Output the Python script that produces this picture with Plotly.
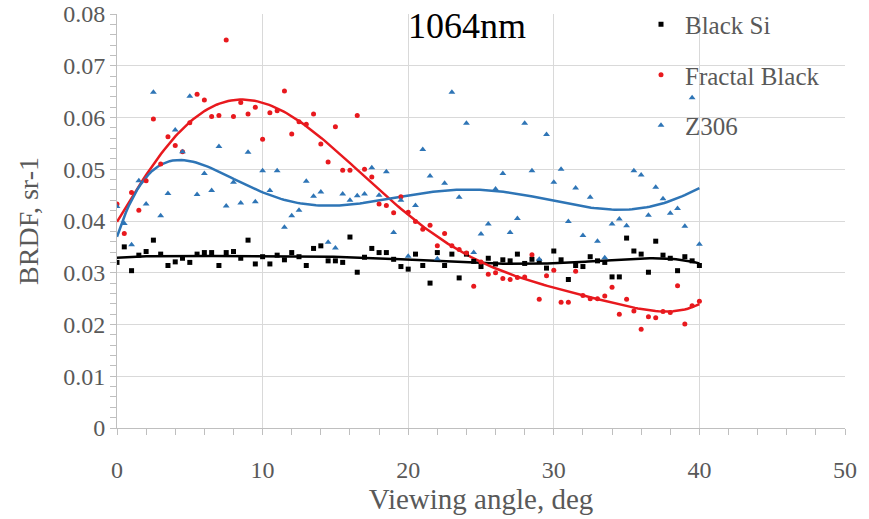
import numpy as np
import plotly.graph_objects as go

# ---------------- data ----------------
black_x = [i * 0.5 for i in range(81)]
black_y = [0.0320, 0.0350, 0.0304, 0.0334, 0.0341, 0.0363, 0.0336, 0.0314, 0.0321, 0.0328,
           0.0320, 0.0336, 0.0339, 0.0339, 0.0314, 0.0339, 0.0341, 0.0328, 0.0363, 0.0317,
           0.0331, 0.0317, 0.0334, 0.0325, 0.0339, 0.0331, 0.0314, 0.0347, 0.0352, 0.0323,
           0.0323, 0.0320, 0.0369, 0.0301, 0.0330, 0.0347, 0.0339, 0.0339, 0.0326, 0.0312,
           0.0307, 0.0336, 0.0314, 0.0280, 0.0339, 0.0314, 0.0336, 0.0290, 0.0336, 0.0322,
           0.0312, 0.0328, 0.0317, 0.0325, 0.0323, 0.0336, 0.0318, 0.0326, 0.0322, 0.0309,
           0.0342, 0.0325, 0.0287, 0.0314, 0.0312, 0.0331, 0.0323, 0.0320, 0.0292, 0.0292,
           0.0367, 0.0342, 0.0336, 0.0301, 0.0361, 0.0334, 0.0328, 0.0304, 0.0331, 0.0323,
           0.0314]

red_x = [i * 0.5 for i in range(81)]
red_y = [0.0433, 0.0376, 0.0455, 0.0421, 0.0478, 0.0597, 0.0510, 0.0563, 0.0546, 0.0534,
         0.0590, 0.0645, 0.0634, 0.0602, 0.0604, 0.0750, 0.0602, 0.0629, 0.0607, 0.0620,
         0.0558, 0.0609, 0.0613, 0.0651, 0.0568, 0.0592, 0.0587, 0.0607, 0.0549, 0.0514,
         0.0582, 0.0498, 0.0498, 0.0604, 0.0500, 0.0485, 0.0433, 0.0430, 0.0416, 0.0447,
         0.0417, 0.0399, 0.0384, 0.0392, 0.0352, 0.0376, 0.0352, 0.0345, 0.0338, 0.0274,
         0.0321, 0.0297, 0.0300, 0.0289, 0.0287, 0.0291, 0.0292, 0.0335, 0.0249, 0.0294,
         0.0305, 0.0243, 0.0243, 0.0303, 0.0256, 0.0250, 0.0250, 0.0255, 0.0272, 0.0220,
         0.0249, 0.0226, 0.0191, 0.0215, 0.0213, 0.0225, 0.0223, 0.0275, 0.0201, 0.0236,
         0.0245]

blue_x = [i * 0.5 for i in range(81)]
blue_y = [0.0428, 0.0395, 0.0354, 0.0478, 0.0433, 0.0649, 0.0410, 0.0453, 0.0576,
          0.0534, 0.0641, 0.0451, 0.0492, 0.0459, 0.0544, 0.0429, 0.0475, 0.0435, 0.0533,
          0.0437, 0.0497, 0.0459, 0.0497, 0.0388, 0.0410, 0.0421, 0.0477, 0.0448, 0.0456,
          0.0359, 0.0348, 0.0452, 0.0440, 0.0449, 0.0452, 0.0503, 0.0450, 0.0495, 0.0378,
          0.0440, 0.0332, 0.0430, 0.0538, 0.0487, 0.0327, 0.0473, 0.0649, 0.0446, 0.0589,
          0.0339, 0.0375, 0.0394, 0.0462, 0.0492, 0.0378, 0.0405, 0.0589, 0.0497, 0.0326,
          0.0567, 0.0475, 0.0500, 0.0399, 0.0464, 0.0372, 0.0446, 0.0361, 0.0329, 0.0394,
          0.0404, 0.0391, 0.0497, 0.0489, 0.0411, 0.0465, 0.0443, 0.0415, 0.0424, 0.0390,
          0.0638, 0.0355]

series_names = ["Black Si", "Fractal Black", "Z306"]
x_ticks = [0, 10, 20, 30, 40, 50]
y_ticks = [0, 0.01, 0.02, 0.03, 0.04, 0.05, 0.06, 0.07, 0.08]
y_tick_text = ["0", "0.01", "0.02", "0.03", "0.04", "0.05", "0.06", "0.07", "0.08"]

# ---------------- styling ----------------
C_BLACK = "#000000"
C_RED = "#e8191e"
C_BLUE = "#2e75b6"
GRAY_TXT = "#595959"
GRID = "#d9d9d9"
AXIS = "#bfbfbf"
FONT = "Liberation Serif, Times New Roman, serif"


def trend(x, y, deg):
    c = np.polyfit(np.array(x), np.array(y), deg)
    xs = np.linspace(min(x), max(x), 200)
    return xs, np.polyval(c, xs)


fig = go.Figure()

specs = [
    (black_x, black_y, series_names[0], C_BLACK, "square", 5, 6),
    (red_x, red_y, series_names[1], C_RED, "circle", 5, 6),
    (blue_x, blue_y, series_names[2], C_BLUE, "triangle-up", 6, 6),
]

for xs, ys, name, col, sym, ms, deg in specs:
    tx, ty = trend(xs, ys, deg)
    fig.add_trace(go.Scatter(x=tx, y=ty, mode="lines", line=dict(color=col, width=2.5),
                             showlegend=False, hoverinfo="skip"))

for xs, ys, name, col, sym, ms, deg in specs:
    fig.add_trace(go.Scatter(x=xs, y=ys, mode="markers", name=name, legendgroup=name,
                             marker=dict(color=col, symbol=sym, size=ms)))

fig.add_annotation(text="1064nm", x=(467 - 117) / 728, y=1 - (26 - 14) / 414,
                   xref="paper", yref="paper", xanchor="center", yanchor="middle",
                   showarrow=False, font=dict(family=FONT, size=36, color="#000000"))

fig.update_layout(
    width=869, height=519,
    margin=dict(l=117, r=24, t=14, b=91, autoexpand=False),
    paper_bgcolor="white", plot_bgcolor="white",
    font=dict(family=FONT, color=GRAY_TXT, size=24),
    legend=dict(x=(637 - 117) / 728, y=1.03, xanchor="left", yanchor="top",
                font=dict(family=FONT, size=25, color=GRAY_TXT),
                tracegroupgap=15, bgcolor="rgba(0,0,0,0)", itemwidth=38),
    xaxis=dict(range=[0, 50], tickvals=x_ticks, showgrid=True, gridcolor=GRID, gridwidth=1,
               showline=True, linecolor=AXIS, linewidth=1, zeroline=False,
               ticks="outside", ticklen=6, tickcolor=AXIS, ticklabelstandoff=14,
               minor=dict(dtick=2, ticks="outside", ticklen=6, tickcolor=AXIS, showgrid=False),
               tickfont=dict(family=FONT, size=24, color=GRAY_TXT),
               title=dict(text="Viewing angle, deg", font=dict(family=FONT, size=29, color=GRAY_TXT),
                          standoff=3)),
    yaxis=dict(range=[0, 0.08], tickvals=y_ticks, ticktext=y_tick_text,
               showgrid=True, gridcolor=GRID, gridwidth=1,
               showline=True, linecolor=AXIS, linewidth=1, zeroline=False,
               ticks="outside", ticklen=6, tickcolor=AXIS,
               minor=dict(dtick=0.002, ticks="outside", ticklen=6, tickcolor=AXIS, showgrid=False),
               tickfont=dict(family=FONT, size=24, color=GRAY_TXT),
               title=dict(text="BRDF, sr-1", font=dict(family=FONT, size=28, color=GRAY_TXT),
                          standoff=16)),
)

fig.write_html("out.html")
